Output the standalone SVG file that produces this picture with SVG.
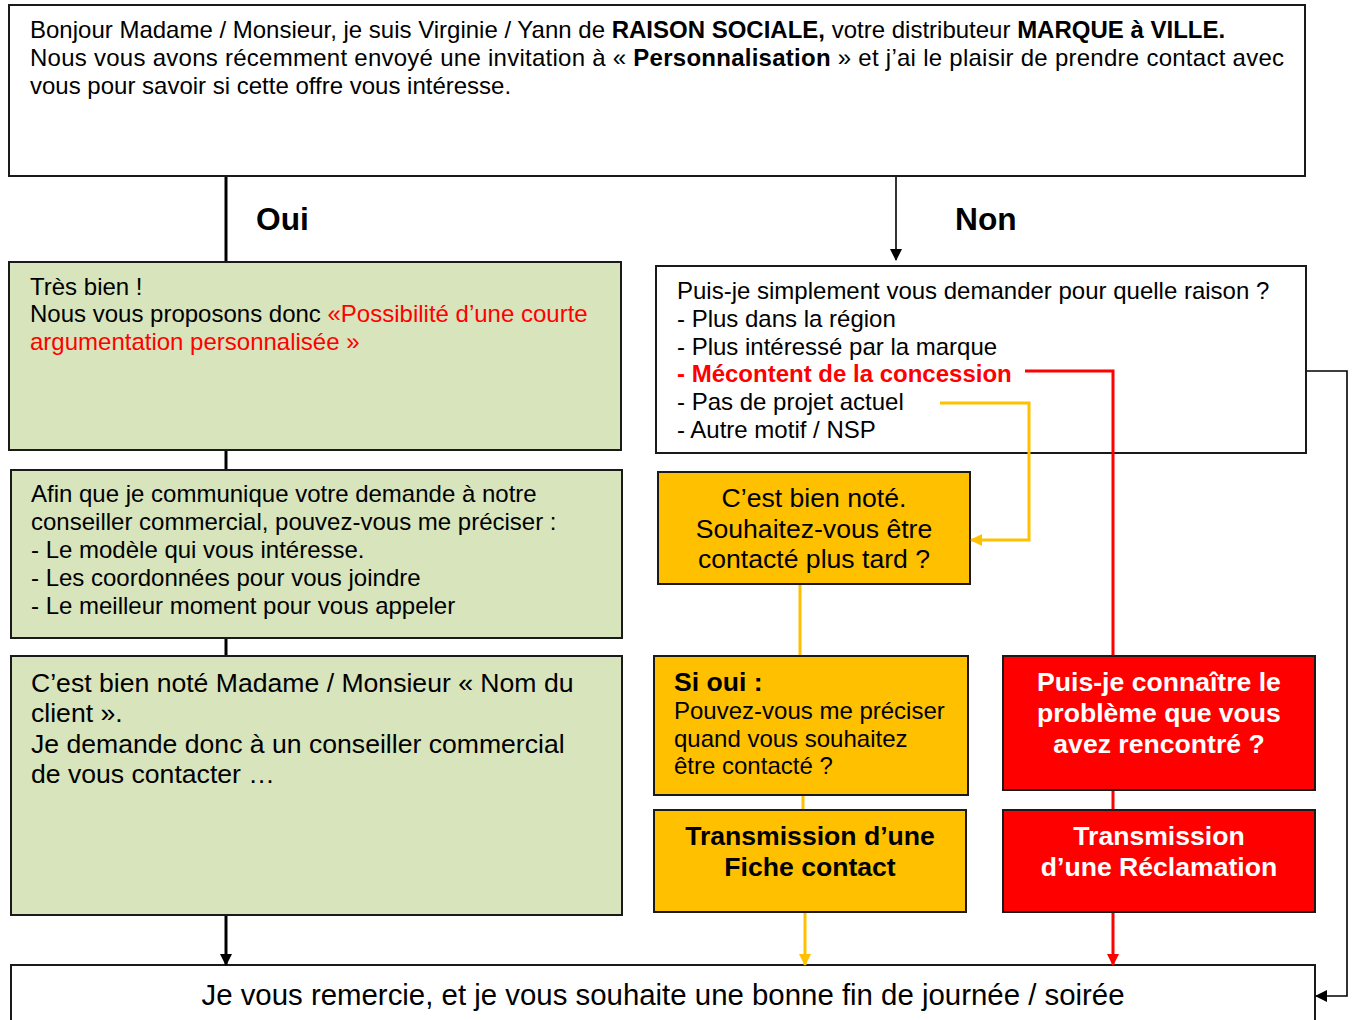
<svg xmlns="http://www.w3.org/2000/svg" width="1354" height="1020" viewBox="0 0 1354 1020">
<defs>
<style>
text{font-family:"Liberation Sans",Arial,sans-serif;fill:#000}
.n{font-size:24px}
.m{font-size:26.6px}
.b{font-weight:bold}
.r{fill:#ff0000}
.w{fill:#fff}
.box{stroke:#1a1a1a;stroke-width:2}
.white{fill:#fff}
.green{fill:#d7e4bc}
.yellow{fill:#ffc000}
.red{fill:#ff0000}
.lk{fill:none;stroke:#000;stroke-width:3}
.lk2{fill:none;stroke:#000;stroke-width:1.6}
.ly{fill:none;stroke:#ffc000;stroke-width:3}
.lr{fill:none;stroke:#ff0000;stroke-width:3}
</style>
<marker id="ak" markerWidth="12" markerHeight="14" refX="11" refY="7" orient="auto" markerUnits="userSpaceOnUse"><path d="M0,1 L12,7 L0,13 Z" fill="#000"/></marker>
<marker id="ay" markerWidth="12" markerHeight="14" refX="11" refY="7" orient="auto" markerUnits="userSpaceOnUse"><path d="M0,1 L12,7 L0,13 Z" fill="#ffc000"/></marker>
<marker id="ar" markerWidth="12" markerHeight="14" refX="11" refY="7" orient="auto" markerUnits="userSpaceOnUse"><path d="M0,1 L12,7 L0,13 Z" fill="#ff0000"/></marker>
</defs>
<rect width="1354" height="1020" fill="#fff"/>

<g id="intro">
<rect class="box white" x="9" y="5" width="1296" height="171"/>
<text class="n" x="30" y="38">Bonjour Madame / Monsieur, je suis Virginie / Yann de <tspan class="b">RAISON SOCIALE,</tspan> votre distributeur <tspan class="b">MARQUE à VILLE.</tspan></text>
<text class="n" x="30" y="66" textLength="1254" lengthAdjust="spacing">Nous vous avons récemment envoyé une invitation à « <tspan class="b">Personnalisation</tspan> » et j’ai le plaisir de prendre contact avec</text>
<text class="n" x="30" y="94">vous pour savoir si cette offre vous intéresse.</text>
</g>

<g id="oui1">
<rect class="box green" x="9" y="262" width="612" height="188"/>
<text class="n" x="30" y="295">Très bien !</text>
<text class="n" x="30" y="322">Nous vous proposons donc <tspan class="r">«Possibilité d’une courte</tspan></text>
<text class="n r" x="30" y="350">argumentation personnalisée »</text>
</g>

<g id="oui2">
<rect class="box green" x="11" y="470" width="611" height="168"/>
<text class="n" x="31" y="502">Afin que je communique votre demande à notre</text>
<text class="n" x="31" y="530">conseiller commercial, pouvez-vous me préciser :</text>
<text class="n" x="31" y="558">- Le modèle qui vous intéresse.</text>
<text class="n" x="31" y="586">- Les coordonnées pour vous joindre</text>
<text class="n" x="31" y="614">- Le meilleur moment pour vous appeler</text>
</g>

<g id="oui3">
<rect class="box green" x="11" y="656" width="611" height="259"/>
<text class="m" x="31" y="692">C’est bien noté Madame / Monsieur « Nom du</text>
<text class="m" x="31" y="722">client ».</text>
<text class="m" x="31" y="753">Je demande donc à un conseiller commercial</text>
<text class="m" x="31" y="783">de vous contacter …</text>
</g>

<g id="non">
<rect class="box white" x="656" y="266" width="650" height="187"/>
<text class="n" x="677" y="299">Puis-je simplement vous demander pour quelle raison ?</text>
<text class="n" x="677" y="327">- Plus dans la région</text>
<text class="n" x="677" y="355">- Plus intéressé par la marque</text>
<text class="n b r" x="677" y="382">- Mécontent de la concession</text>
<text class="n" x="677" y="410">- Pas de projet actuel</text>
<text class="n" x="677" y="438">- Autre motif / NSP</text>
</g>

<g id="plus-tard">
<rect class="box yellow" x="658" y="472" width="312" height="112"/>
<text class="m" x="814" y="507" text-anchor="middle">C’est bien noté.</text>
<text class="m" x="814" y="538" text-anchor="middle">Souhaitez-vous être</text>
<text class="m" x="814" y="568" text-anchor="middle">contacté plus tard ?</text>
</g>

<g id="si-oui">
<rect class="box yellow" x="654" y="656" width="314" height="139"/>
<text class="m b" x="674" y="691">Si oui :</text>
<text class="n" x="674" y="719">Pouvez-vous me préciser</text>
<text class="n" x="674" y="747">quand vous souhaitez</text>
<text class="n" x="674" y="774">être contacté ?</text>
</g>

<g id="fiche-contact">
<rect class="box yellow" x="654" y="810" width="312" height="102"/>
<text class="m b" x="810" y="845" text-anchor="middle">Transmission d’une</text>
<text class="m b" x="810" y="876" text-anchor="middle">Fiche contact</text>
</g>

<g id="probleme">
<rect class="box red" x="1003" y="656" width="312" height="134"/>
<text class="m b w" x="1159" y="691" text-anchor="middle">Puis-je connaître le</text>
<text class="m b w" x="1159" y="722" text-anchor="middle">problème que vous</text>
<text class="m b w" x="1159" y="753" text-anchor="middle">avez rencontré ?</text>
</g>

<g id="reclamation">
<rect class="box red" x="1003" y="810" width="312" height="102"/>
<text class="m b w" x="1159" y="845" text-anchor="middle">Transmission</text>
<text class="m b w" x="1159" y="876" text-anchor="middle">d’une Réclamation</text>
</g>

<g id="fin">
<rect class="box white" x="11" y="965" width="1304" height="70"/>
<text x="663" y="1005" font-size="29.4" text-anchor="middle">Je vous remercie, et je vous souhaite une bonne fin de journée / soirée</text>
</g>

<g id="connectors">
<path class="lk" d="M226,177 V261"/>
<path class="lk2" d="M896,177 V260" marker-end="url(#ak)"/>
<path class="lk" d="M226,451 V469"/>
<path class="lk" d="M226,639 V655"/>
<path class="lk" d="M226,916 V965" marker-end="url(#ak)"/>
<path class="lr" d="M1025,371 H1113 V655"/>
<path class="lr" d="M1113,791 V809"/>
<path class="lr" d="M1113,913 V965" marker-end="url(#ar)"/>
<path class="ly" d="M940,403 H1029 V540 H971" marker-end="url(#ay)"/>
<path class="ly" d="M800,585 V655"/>
<path class="ly" d="M803,796 V809"/>
<path class="ly" d="M805,913 V965" marker-end="url(#ay)"/>
<path class="lk2" d="M1307,371 H1347 V996 H1316" marker-end="url(#ak)"/>
<text x="256" y="230" font-size="31.7" font-weight="bold">Oui</text>
<text x="955" y="230" font-size="31.7" font-weight="bold">Non</text>
</g>
</svg>
